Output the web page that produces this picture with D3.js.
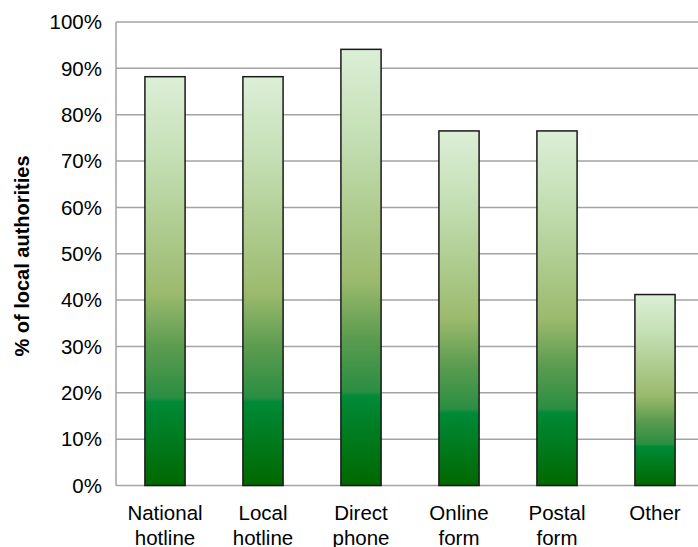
<!DOCTYPE html>
<html><head><meta charset="utf-8">
<script src="https://cdn.jsdelivr.net/npm/d3@7"></script>
<style>body{margin:0;background:#fff}svg{display:block}</style>
</head><body>
<svg id="c" width="698" height="547"></svg>
<script>
const categories = [["National","hotline"],["Local","hotline"],["Direct","phone"],["Online","form"],["Postal","form"],["Other"]];
const values = [0.882, 0.882, 0.941, 0.765, 0.765, 0.412];
const yTicks = [0,0.1,0.2,0.3,0.4,0.5,0.6,0.7,0.8,0.9,1.0];
const yTitle = "% of local authorities";

(function(){
const svg = d3.select("#c");
const pl = 116, pt = 22, pb = 485.5, pr = 116 + 6*98;
const font = "'Liberation Sans', Arial, Helvetica, sans-serif";

const x = d3.scaleBand().domain(d3.range(categories.length)).range([pl, pr]).paddingInner(0.59).paddingOuter(0.295);
const y = d3.scaleLinear().domain([0,1]).range([pb, pt]);

const defs = svg.append("defs");
const g = defs.append("linearGradient").attr("id","gr").attr("x1",0).attr("y1",0).attr("x2",0).attr("y2",1);
[[0,"#dcefd7"],[0.2,"#c4dfb4"],[0.53,"#9bba6d"],[0.66,"#5c9c50"],[0.785,"#2a8e42"],[0.795,"#008a37"],[1,"#006800"]]
  .forEach(([o,c]) => g.append("stop").attr("offset",o).attr("stop-color",c));

svg.append("g").selectAll("line").data(yTicks).join("line")
  .attr("x1", pl).attr("x2", 698)
  .attr("y1", d => y(d)).attr("y2", d => y(d))
  .attr("stroke", "#a3a3a3").attr("stroke-width", 1.5);
svg.append("line").attr("x1",pl).attr("x2",pl).attr("y1",pt).attr("y2",pb)
  .attr("stroke","#a3a3a3").attr("stroke-width",1.5);

svg.append("g").selectAll("text").data(yTicks).join("text")
  .attr("x", 102).attr("y", d => y(d)).attr("dy","0.35em")
  .attr("text-anchor","end").attr("font-family",font).attr("font-size",20.5).attr("fill","#000")
  .text(d => d3.format(".0%")(d));

svg.append("g").selectAll("rect").data(values).join("rect")
  .attr("x", (d,i) => x(i)).attr("width", x.bandwidth())
  .attr("y", d => y(d)).attr("height", d => pb - y(d))
  .attr("fill","url(#gr)").attr("stroke","#1a1a1a").attr("stroke-width",1.5);

const xl = svg.append("g").selectAll("text").data(categories).join("text")
  .attr("x", (d,i) => x(i) + x.bandwidth()/2).attr("y", 520)
  .attr("text-anchor","middle").attr("font-family",font).attr("font-size",20.5).attr("fill","#000");
xl.selectAll("tspan").data(d => d).join("tspan")
  .attr("x", function(){ return d3.select(this.parentNode).attr("x"); })
  .attr("dy", (d,i) => i ? 25 : 0).text(d => d);

svg.append("text").attr("transform","translate(29,256) rotate(-90)")
  .attr("text-anchor","middle").attr("font-family",font).attr("font-size",20).attr("font-weight","bold")
  .text(yTitle);
})();
</script>
</body></html>
